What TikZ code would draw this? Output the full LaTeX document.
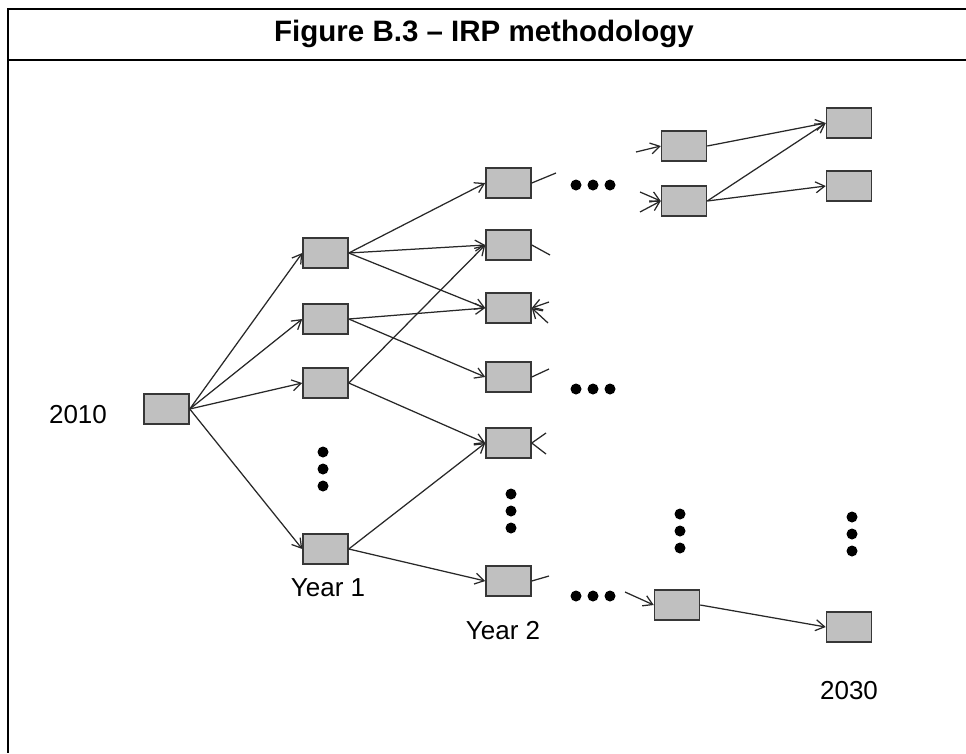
\documentclass[tikz,border=0pt]{standalone}
\usepackage{fontspec}
\setmainfont{Liberation Sans}
\usetikzlibrary{arrows.meta}
\definecolor{boxfill}{RGB}{192,192,192}
\definecolor{boxedge}{RGB}{55,55,55}
\definecolor{linkgray}{RGB}{40,40,40}
\begin{document}
\begin{tikzpicture}[x=1pt,y=-1pt,
    stagebox/.style={draw=boxedge,fill=boxfill,line width=1.5pt,minimum width=45pt,minimum height=30pt,inner sep=0pt},
    link/.style={draw=linkgray,line width=1.25pt},
    linkarrow/.style={link,-{Straight Barb[length=9pt,width=11pt,line width=1.25pt]}},
    yearlabel/.style={font=\fontsize{26}{30}\selectfont}]
  \useasboundingbox (0,0) rectangle (966,753);

  % Drawing frame and title
  \draw [line width=2.8pt,line join=miter] (966,9) -- (8,9) -- (8,753);
  \draw [line width=2.8pt] (8,60) -- (966,60);
  \node [font=\bfseries\fontsize{29.5}{34}\selectfont] (title) at (484,34) {Figure B.3 – IRP methodology};

  % Drawing boxes
  \node [stagebox] (start) at (166.5,409) {};
  \node [stagebox] (y1a) at (325.5,253) {};
  \node [stagebox] (y1b) at (325.5,319) {};
  \node [stagebox] (y1c) at (325.5,383) {};
  \node [stagebox] (y1d) at (325.5,549) {};
  \node [stagebox] (y2a) at (508.5,183) {};
  \node [stagebox] (y2b) at (508.5,245) {};
  \node [stagebox] (y2c) at (508.5,308) {};
  \node [stagebox] (y2d) at (508.5,377) {};
  \node [stagebox] (y2e) at (508.5,443) {};
  \node [stagebox] (y2f) at (508.5,581) {};
  \node [stagebox] (y3a) at (684,146) {};
  \node [stagebox] (y3b) at (684,201) {};
  \node [stagebox] (y3c) at (677,605) {};
  \node [stagebox] (y4a) at (849,123) {};
  \node [stagebox] (y4b) at (849,186) {};
  \node [stagebox] (y4c) at (849,627) {};

  % Drawing labels
  \node [yearlabel] (label2010) at (78,415) {2010};
  \node [yearlabel] (labelyear1) at (328,588) {Year 1};
  \node [yearlabel] (labelyear2) at (503,631) {Year 2};
  \node [yearlabel] (label2030) at (849,691) {2030};

  % Drawing links between years
  \foreach \t in {y1a,y1b,y1c,y1d}
    \draw [linkarrow] (start.east) -- (\t.west);
  \foreach \s/\t in {y1a/y2a,y1a/y2b,y1a/y2c,y1b/y2c,y1b/y2d,y1c/y2b,y1c/y2e,y1d/y2e,y1d/y2f,y3a/y4a,y3b/y4a,y3b/y4b,y3c/y4c}
    \draw [linkarrow] (\s.east) -- (\t.west);

  % Drawing loose ends
  \coordinate (outa) at (556,173);
  \coordinate (outb) at (550,255);
  \coordinate (inc1) at (549,302);
  \coordinate (inc2) at (548,323);
  \coordinate (outd) at (549,369);
  \coordinate (ine1) at (546,433);
  \coordinate (ine2) at (546,454);
  \coordinate (outf) at (549,576);
  \coordinate (inta) at (636,152);
  \coordinate (intb1) at (640,192);
  \coordinate (intb2) at (640,212);
  \coordinate (intc) at (625,592);
  \draw [link] (y2a.east) -- (outa);
  \draw [link] (y2b.east) -- (outb);
  \draw [linkarrow] (inc1) -- (y2c.east);
  \draw [linkarrow] (inc2) -- (y2c.east);
  \draw [link] (y2d.east) -- (outd);
  \draw [link] (ine1) -- (y2e.east) -- (ine2);
  \draw [link] (y2f.east) -- (outf);
  \draw [linkarrow] (inta) -- (y3a.west);
  \draw [linkarrow] (intb1) -- (y3b.west);
  \draw [linkarrow] (intb2) -- (y3b.west);
  \draw [linkarrow] (intc) -- (y3c.west);

  % Marking omitted stages
  \foreach \x/\y in {576/185,593/185,610/185,576/389,593/389,610/389,576/596,593/596,610/596,
                     323/452,323/469,323/486,511/494,511/511,511/528,
                     680/514,680/531,680/548,852/517,852/534,852/551}
    \fill (\x,\y) circle (5.5pt);
\end{tikzpicture}
\end{document}
